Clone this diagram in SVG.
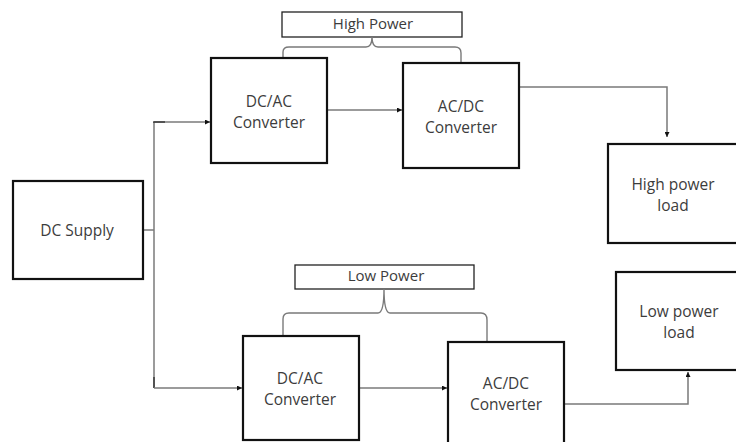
<svg xmlns="http://www.w3.org/2000/svg" width="736" height="442" viewBox="0 0 736 442">
<defs>
<style>
.box{fill:#fff;stroke:#111;stroke-width:2.2}
.lbl{fill:#fff;stroke:#222;stroke-width:1.3}
.t{font-family:"Open Sans","Liberation Sans",sans-serif;font-size:15.5px;fill:#3c3c3c;text-anchor:middle}
.tl{font-family:"Open Sans","Liberation Sans",sans-serif;font-size:15px;fill:#3c3c3c;text-anchor:middle}
.c{fill:none;stroke:#7a7a7a;stroke-width:1.5}
.br{fill:none;stroke:#7a7a7a;stroke-width:1.4}
</style>
<marker id="ah" viewBox="0 0 10 10" refX="10" refY="5" markerWidth="5" markerHeight="5" orient="auto" markerUnits="userSpaceOnUse">
<path d="M0,0 L10,5 L0,10 z" fill="#111"/>
</marker>
</defs>
<rect width="736" height="442" fill="#fff"/>

<g id="connectors">
<path class="c" d="M143,230 H154"/>
<path class="c" d="M154,122 V388"/>
<path class="c" d="M154,122 H210" marker-end="url(#ah)"/>
<path d="M153,122 H165" stroke="#222" stroke-width="1.2"/>
<path d="M154,377 V388" stroke="#222" stroke-width="1.2"/>
<path class="c" d="M154,388 H242" marker-end="url(#ah)"/>
<path class="c" d="M327,110 H402" marker-end="url(#ah)"/>
<path class="c" d="M519,87 H667 V137" marker-end="url(#ah)"/>
<path class="c" d="M359,388 H447" marker-end="url(#ah)"/>
<path class="c" d="M564,404 H688 V372" marker-end="url(#ah)"/>
</g>

<g id="dc-supply">
<rect class="box" x="13" y="181" width="130" height="98"/>
<text class="t" x="77" y="236">DC Supply</text>
</g>

<g id="high-power-label">
<rect class="lbl" x="282" y="12" width="180" height="25"/>
<text class="tl" x="373" y="29">High Power</text>
<path class="br" d="M283,58 V52 Q283,47 289,47 H366 Q372,47 372,37 Q372,47 378,47 H455 Q461,47 461,53 V63"/>
</g>

<g id="dcac-top">
<rect class="box" x="211" y="58" width="116" height="105"/>
<text class="t" x="269" y="107">DC/AC</text>
<text class="t" x="269" y="128">Converter</text>
</g>

<g id="acdc-top">
<rect class="box" x="403" y="63" width="116" height="105"/>
<text class="t" x="461" y="112">AC/DC</text>
<text class="t" x="461" y="133">Converter</text>
</g>

<g id="high-power-load">
<rect class="box" x="608" y="144" width="140" height="99"/>
<text class="t" x="673" y="190">High power</text>
<text class="t" x="673" y="211">load</text>
</g>

<g id="low-power-label">
<rect class="lbl" x="295" y="265" width="179" height="24"/>
<text class="tl" x="386" y="281">Low Power</text>
<path class="br" d="M283,336 V319 Q283,313 289,313 H378 Q384,313 384,289 Q384,313 390,313 H481 Q487,313 487,320 V342"/>
</g>

<g id="dcac-bottom">
<rect class="box" x="243" y="336" width="116" height="104"/>
<text class="t" x="300" y="384">DC/AC</text>
<text class="t" x="300" y="405">Converter</text>
</g>

<g id="acdc-bottom">
<rect class="box" x="448" y="342" width="116" height="110"/>
<text class="t" x="506" y="389">AC/DC</text>
<text class="t" x="506" y="410">Converter</text>
</g>

<g id="low-power-load">
<rect class="box" x="616" y="272" width="140" height="98"/>
<text class="t" x="679" y="317">Low power</text>
<text class="t" x="679" y="338">load</text>
</g>
</svg>
